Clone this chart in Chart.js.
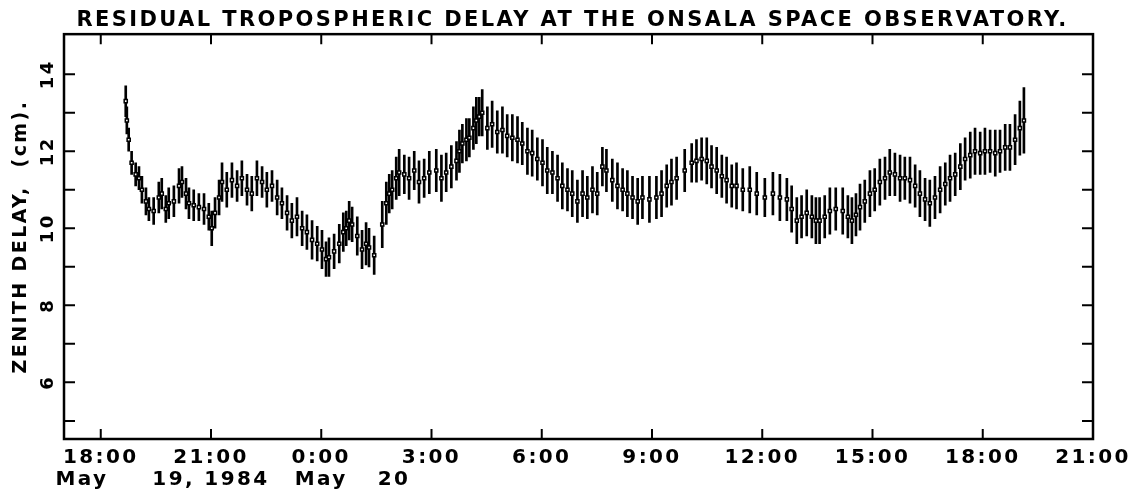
<!DOCTYPE html>
<html>
<head>
<meta charset="utf-8">
<script src="https://cdn.jsdelivr.net/npm/chart.js@4.4.1/dist/chart.umd.min.js"></script>
<style>
html,body{margin:0;padding:0;background:#fff;}
</style>
</head>
<body>
<canvas id="myChart" width="1145" height="491"></canvas>
<script>
// hours counted from May 19 0:00
const times = [
18.68,18.71,18.76,18.84,18.95,19.04,19.12,19.23,19.31,19.44,
19.58,19.66,19.77,19.85,19.99,20.13,20.21,20.32,20.40,20.53,
20.67,20.81,20.94,21.02,21.11,21.22,21.30,21.43,21.57,21.71,
21.84,21.98,22.11,22.25,22.39,22.52,22.66,22.80,22.93,23.07,
23.20,23.34,23.48,23.61,23.75,23.89,24.02,24.13,24.21,24.35,
24.49,24.60,24.68,24.76,24.84,24.98,25.11,25.22,25.30,25.44,
25.66,25.77,25.85,25.93,26.04,26.12,26.26,26.39,26.53,26.66,
26.80,26.94,27.13,27.27,27.40,27.54,27.68,27.76,27.84,27.95,
28.03,28.14,28.22,28.30,28.38,28.52,28.65,28.79,28.93,29.06,
29.20,29.34,29.47,29.61,29.74,29.88,30.02,30.15,30.29,30.43,
30.56,30.70,30.83,30.97,31.11,31.24,31.38,31.51,31.65,31.76,
31.92,32.06,32.20,32.33,32.47,32.61,32.74,32.93,33.12,33.26,
33.40,33.53,33.67,33.89,34.08,34.21,34.35,34.49,34.62,34.76,
34.90,35.03,35.17,35.30,35.47,35.66,35.85,36.07,36.29,36.48,
36.67,36.80,36.94,37.07,37.21,37.35,37.46,37.56,37.70,37.84,
38.00,38.19,38.33,38.44,38.55,38.66,38.79,38.93,39.06,39.20,
39.34,39.47,39.61,39.75,39.88,40.02,40.16,40.29,40.43,40.56,
40.70,40.84,40.98,41.11,41.25,41.39,41.52,41.66,41.79,41.93,
42.06,42.20,42.34,42.47,42.61,42.74,42.88,43.01,43.12
];
// zenith delay (cm)
const delay = [
13.3,12.8,12.3,11.7,11.4,11.3,11.0,10.7,10.5,10.45,
10.8,10.9,10.5,10.65,10.7,11.1,11.2,10.9,10.65,10.6,
10.55,10.5,10.3,10.0,10.4,10.8,11.2,11.0,11.25,11.1,
11.3,11.0,10.9,11.3,11.2,11.0,11.1,10.8,10.65,10.4,
10.2,10.3,10.0,9.9,9.7,9.6,9.45,9.2,9.25,9.4,
9.6,9.9,10.0,10.2,10.1,9.8,9.45,9.6,9.5,9.3,
10.1,10.65,10.9,11.0,11.3,11.45,11.4,11.3,11.5,11.2,
11.3,11.45,11.5,11.3,11.45,11.6,11.75,12.0,12.2,12.3,
12.35,12.6,12.8,12.9,13.0,12.6,12.7,12.5,12.55,12.4,
12.35,12.3,12.2,12.0,11.95,11.8,11.7,11.5,11.45,11.3,
11.1,11.0,10.9,10.7,10.9,10.8,11.0,10.9,11.6,11.5,
11.25,11.1,11.0,10.9,10.8,10.7,10.8,10.75,10.8,10.9,
11.1,11.2,11.3,11.5,11.7,11.75,11.8,11.75,11.6,11.5,
11.35,11.25,11.1,11.1,11.0,11.0,10.9,10.8,10.9,10.8,
10.75,10.5,10.2,10.3,10.4,10.3,10.2,10.2,10.3,10.45,
10.5,10.45,10.3,10.2,10.35,10.55,10.7,10.9,11.0,11.2,
11.3,11.45,11.4,11.3,11.3,11.25,11.1,10.9,10.75,10.65,
10.8,11.0,11.15,11.3,11.4,11.6,11.8,11.9,12.0,11.95,
12.0,12.0,11.95,12.0,12.1,12.1,12.3,12.6,12.8
];
// half length of each error bar (cm)
const sigma = [
0.4,0.35,0.3,0.3,0.3,0.3,0.35,0.35,0.3,0.35,
0.4,0.4,0.35,0.4,0.4,0.45,0.4,0.4,0.4,0.4,
0.35,0.4,0.35,0.45,0.4,0.45,0.5,0.45,0.45,0.4,
0.45,0.4,0.45,0.45,0.4,0.45,0.4,0.45,0.4,0.45,
0.45,0.5,0.45,0.45,0.5,0.45,0.5,0.45,0.5,0.45,
0.5,0.5,0.45,0.5,0.45,0.5,0.5,0.55,0.5,0.5,
0.6,0.55,0.5,0.5,0.55,0.6,0.5,0.55,0.5,0.55,
0.5,0.55,0.55,0.6,0.5,0.55,0.5,0.55,0.5,0.55,
0.5,0.55,0.6,0.5,0.6,0.55,0.6,0.55,0.6,0.55,
0.6,0.6,0.55,0.6,0.6,0.55,0.6,0.6,0.55,0.6,
0.6,0.55,0.6,0.55,0.6,0.55,0.6,0.55,0.5,0.55,
0.55,0.6,0.55,0.6,0.55,0.6,0.55,0.6,0.55,0.6,
0.55,0.6,0.55,0.55,0.5,0.55,0.55,0.6,0.55,0.6,
0.55,0.6,0.55,0.6,0.55,0.6,0.55,0.5,0.55,0.6,
0.55,0.6,0.6,0.55,0.6,0.55,0.6,0.6,0.55,0.6,
0.55,0.6,0.55,0.6,0.55,0.6,0.55,0.6,0.55,0.6,
0.55,0.6,0.55,0.6,0.55,0.6,0.55,0.6,0.55,0.6,
0.55,0.6,0.55,0.6,0.55,0.6,0.55,0.6,0.6,0.55,
0.6,0.55,0.6,0.55,0.6,0.6,0.65,0.7,0.85
];

const xTicks = [18,21,24,27,30,33,36,39,42,45];
const xLabels = [["18:00","May    "],["21:00","19, 1984"],["0:00","May"],["3:00","20        "],
  "6:00","9:00","12:00","15:00","18:00","21:00"];
const yTicks = [6,8,10,12,14];
const yLabels = ["6","8","10","12","14"];
const yMinor = [5,6,7,8,9,10,11,12,13,14];

const font = "'DejaVu Sans', 'Verdana', sans-serif";

// frame with inward ticks on all four sides
const frame = {
  id: 'frame',
  beforeUpdate(chart){ chart.ctx.letterSpacing = '2.4px'; },
  beforeDraw(chart){ chart.ctx.letterSpacing = '2.4px'; },
  afterDraw(chart){
    const ctx = chart.ctx;
    const a = chart.chartArea;
    const x = chart.scales.x, y = chart.scales.y;
    ctx.save();
    ctx.strokeStyle = '#000';
    ctx.lineWidth = 2.5;
    ctx.strokeRect(a.left, a.top, a.right - a.left, a.bottom - a.top);
    ctx.lineWidth = 2;
    ctx.beginPath();
    yMinor.forEach(function(v){
      const py = y.getPixelForValue(v);
      ctx.moveTo(a.left, py); ctx.lineTo(a.left + 11, py);
      ctx.moveTo(a.right, py); ctx.lineTo(a.right - 11, py);
    });
    xTicks.forEach(function(v){
      const px = x.getPixelForValue(v);
      ctx.moveTo(px, a.bottom); ctx.lineTo(px, a.bottom - 10);
      ctx.moveTo(px, a.top); ctx.lineTo(px, a.top + 10);
    });
    ctx.stroke();
    ctx.restore();
  }
};

const bars = times.map(function(t, i){ return {x: t, y: [delay[i] - sigma[i], delay[i] + sigma[i]]}; });
const pts = times.map(function(t, i){ return {x: t, y: delay[i]}; });

const ctx = document.getElementById('myChart').getContext('2d');
const chart = new Chart(ctx, {
  type: 'bar',
  data: {
    datasets: [{
      type: 'line',
      data: pts,
      showLine: false,
      pointStyle: 'rect',
      pointRadius: 2.2,
      pointBackgroundColor: '#fff',
      pointBorderColor: '#000',
      pointBorderWidth: 1.5
    }, {
      type: 'bar',
      data: bars,
      backgroundColor: '#000',
      borderWidth: 0,
      barThickness: 2,
      grouped: false
    }]
  },
  options: {
    responsive: false,
    animation: false,
    layout: {padding: 0},
    plugins: {
      legend: {display: false},
      tooltip: {enabled: false},
      title: {
        display: true,
        text: 'RESIDUAL TROPOSPHERIC DELAY AT THE ONSALA SPACE OBSERVATORY.',
        color: '#000',
        font: {family: font, weight: 'bold', size: 21, lineHeight: 1.15},
        padding: {top: 8, bottom: 2}
      }
    },
    scales: {
      x: {
        type: 'linear',
        min: 17,
        max: 45,
        offset: false,
        grid: {display: false, drawTicks: false},
        border: {display: false},
        afterBuildTicks: function(s){ s.ticks = xTicks.map(function(v){ return {value: v}; }); },
        afterFit: function(s){ s.height = 52; s.paddingRight = 52; },
        ticks: {
          autoSkip: false,
          maxRotation: 0,
          padding: 8,
          color: '#000',
          font: {family: font, weight: 'bold', size: 20, lineHeight: 1.1},
          callback: function(v, i){ return xLabels[i]; }
        }
      },
      y: {
        type: 'linear',
        min: 4.53,
        max: 15.04,
        grid: {display: false, drawTicks: false},
        border: {display: false},
        afterBuildTicks: function(s){ s.ticks = yTicks.map(function(v){ return {value: v}; }); },
        afterFit: function(s){ s.width = 64; },
        ticks: {
          minRotation: 90,
          maxRotation: 90,
          crossAlign: 'center',
          padding: 1,
          color: '#000',
          font: {family: font, weight: 'bold', size: 18},
          callback: function(v, i){ return yLabels[i]; }
        },
        title: {
          display: true,
          text: 'ZENITH DELAY,  (cm).',
          color: '#000',
          font: {family: font, weight: 'bold', size: 19, lineHeight: 1.2},
          padding: {top: 10, bottom: 0}
        }
      }
    }
  },
  plugins: [frame]
});
</script>
</body>
</html>
